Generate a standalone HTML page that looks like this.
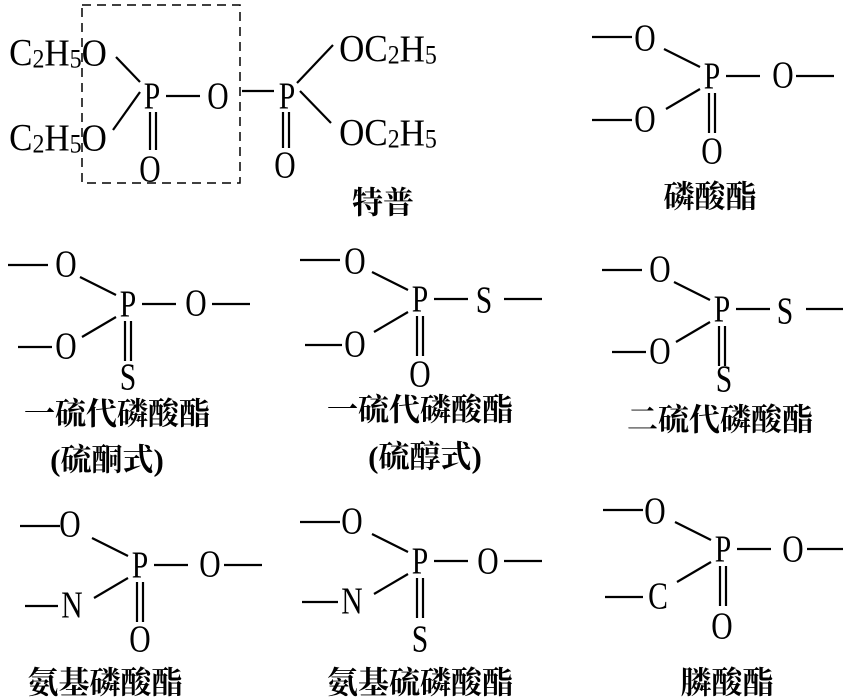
<!DOCTYPE html>
<html><head><meta charset="utf-8"><style>
html,body{margin:0;padding:0;background:#fff;}
svg{display:block;}
text{font-family:"Liberation Serif","Noto Serif CJK SC",serif;fill:#000;}
.a{font-size:38px;text-anchor:middle;dominant-baseline:central;transform:scaleX(0.78);transform-box:fill-box;transform-origin:center;}
.b{font-size:38px;text-anchor:middle;dominant-baseline:central;transform:scaleX(0.92);transform-box:fill-box;transform-origin:center;}
.c{font-size:31px;font-weight:bold;text-anchor:middle;dominant-baseline:central;font-family:"Liberation Serif","Noto Serif CJK SC","Noto Sans CJK SC",serif;}
line{stroke:#000;stroke-width:2.2;}
</style></head><body>
<svg width="843" height="697" viewBox="0 0 843 697" xmlns="http://www.w3.org/2000/svg">
<defs>
<g id="core">
<line x1="-48" y1="-28" x2="-12" y2="-10"/>
<line x1="-12" y1="12" x2="-46" y2="32"/>
<line x1="14" y1="-1" x2="48" y2="-1"/>
<line x1="-3" y1="16" x2="-3" y2="56"/>
<line x1="3" y1="16" x2="3" y2="56"/>
<line x1="-120" y1="-40" x2="-80" y2="-40"/>
<line x1="84" y1="-1" x2="122" y2="-1"/>
<text class="a" x="0" y="0">P</text>
</g>
</defs>

<!-- Structure 1: TEPP -->
<rect x="82" y="5" width="158" height="178" fill="none" stroke="#000" stroke-width="1.5" stroke-dasharray="9,6"/>
<text class="b" x="58" y="52">C<tspan font-size="26" dy="7">2</tspan><tspan dy="-7">H</tspan><tspan font-size="26" dy="7">5</tspan><tspan dy="-7">O</tspan></text>
<text class="b" x="58" y="137">C<tspan font-size="26" dy="7">2</tspan><tspan dy="-7">H</tspan><tspan font-size="26" dy="7">5</tspan><tspan dy="-7">O</tspan></text>
<text class="a" x="152" y="97">P</text>
<text class="a" x="218" y="97">O</text>
<text class="a" x="287" y="97">P</text>
<text class="a" x="150" y="170">O</text>
<text class="a" x="285" y="166">O</text>
<text class="b" x="388" y="48">OC<tspan font-size="26" dy="7">2</tspan><tspan dy="-7">H</tspan><tspan font-size="26" dy="7">5</tspan></text>
<text class="b" x="388" y="132">OC<tspan font-size="26" dy="7">2</tspan><tspan dy="-7">H</tspan><tspan font-size="26" dy="7">5</tspan></text>
<line x1="116" y1="57" x2="140" y2="82"/>
<line x1="140" y1="92" x2="113" y2="130"/>
<line x1="166" y1="96" x2="200" y2="96"/>
<line x1="242" y1="91" x2="274" y2="91"/>
<line x1="297" y1="83" x2="333" y2="45"/>
<line x1="300" y1="91" x2="331" y2="123"/>
<line x1="150" y1="112" x2="150" y2="150"/>
<line x1="156" y1="112" x2="156" y2="150"/>
<line x1="283" y1="112" x2="283" y2="148"/>
<line x1="289" y1="112" x2="289" y2="148"/>
<text class="c" x="383" y="203">特普</text>

<!-- Structure 2 -->
<g transform="translate(712,77)"><use href="#core"/>
<text class="a" x="-67" y="-38">O</text><text class="a" x="-67" y="43">O</text>
<text class="a" x="71" y="-1">O</text><text class="a" x="0" y="75">O</text>
<line x1="-120" y1="43" x2="-80" y2="43"/></g>
<text class="c" x="710" y="197">磷酸酯</text>

<!-- Structure 3 -->
<g transform="translate(128,305)"><use href="#core"/>
<text class="a" x="-62" y="-40">O</text><text class="a" x="-62" y="42">O</text>
<text class="a" x="68" y="-1">O</text><text class="a" x="0" y="73">S</text>
<line x1="-110" y1="42" x2="-76" y2="42"/></g>
<text class="c" x="117" y="414">一硫代磷酸酯</text>
<text class="c" x="107" y="460">(硫酮式)</text>

<!-- Structure 4 -->
<g transform="translate(420,300)"><use href="#core"/>
<text class="a" x="-65" y="-38">O</text><text class="a" x="-65" y="45">O</text>
<text class="a" x="64" y="1">S</text><text class="a" x="0" y="75">O</text>
<line x1="-115" y1="45" x2="-78" y2="45"/></g>
<text class="c" x="420" y="410">一硫代磷酸酯</text>
<text class="c" x="425" y="457">(硫醇式)</text>

<!-- Structure 5 -->
<g transform="translate(722,310)"><use href="#core"/>
<text class="a" x="-62" y="-40">O</text><text class="a" x="-62" y="42">O</text>
<text class="a" x="63" y="2">S</text><text class="a" x="2" y="70">S</text>
<line x1="-110" y1="42" x2="-76" y2="42"/></g>
<text class="c" x="720" y="420">二硫代磷酸酯</text>

<!-- Structure 6 -->
<g transform="translate(140,566)"><use href="#core"/>
<text class="a" x="-70" y="-41">O</text><text class="a" x="-68" y="40">N</text>
<text class="a" x="70" y="-1">O</text><text class="a" x="0" y="74">O</text>
<line x1="-115" y1="40" x2="-82" y2="40"/></g>
<text class="c" x="105" y="683">氨基磷酸酯</text>

<!-- Structure 7 -->
<g transform="translate(420,562)"><use href="#core"/>
<text class="a" x="-68" y="-40">O</text><text class="a" x="-68" y="40">N</text>
<text class="a" x="68" y="0">O</text><text class="a" x="0" y="78">S</text>
<line x1="-118" y1="40" x2="-82" y2="40"/></g>
<text class="c" x="420" y="683">氨基硫磷酸酯</text>

<!-- Structure 8 -->
<g transform="translate(723,550)"><use href="#core"/>
<text class="a" x="-68" y="-38">O</text><text class="a" x="-65" y="47">C</text>
<text class="a" x="70" y="0">O</text><text class="a" x="-1" y="77">O</text>
<line x1="-118" y1="47" x2="-80" y2="47"/></g>
<text class="c" x="727" y="683">膦酸酯</text>
</svg>
</body></html>
